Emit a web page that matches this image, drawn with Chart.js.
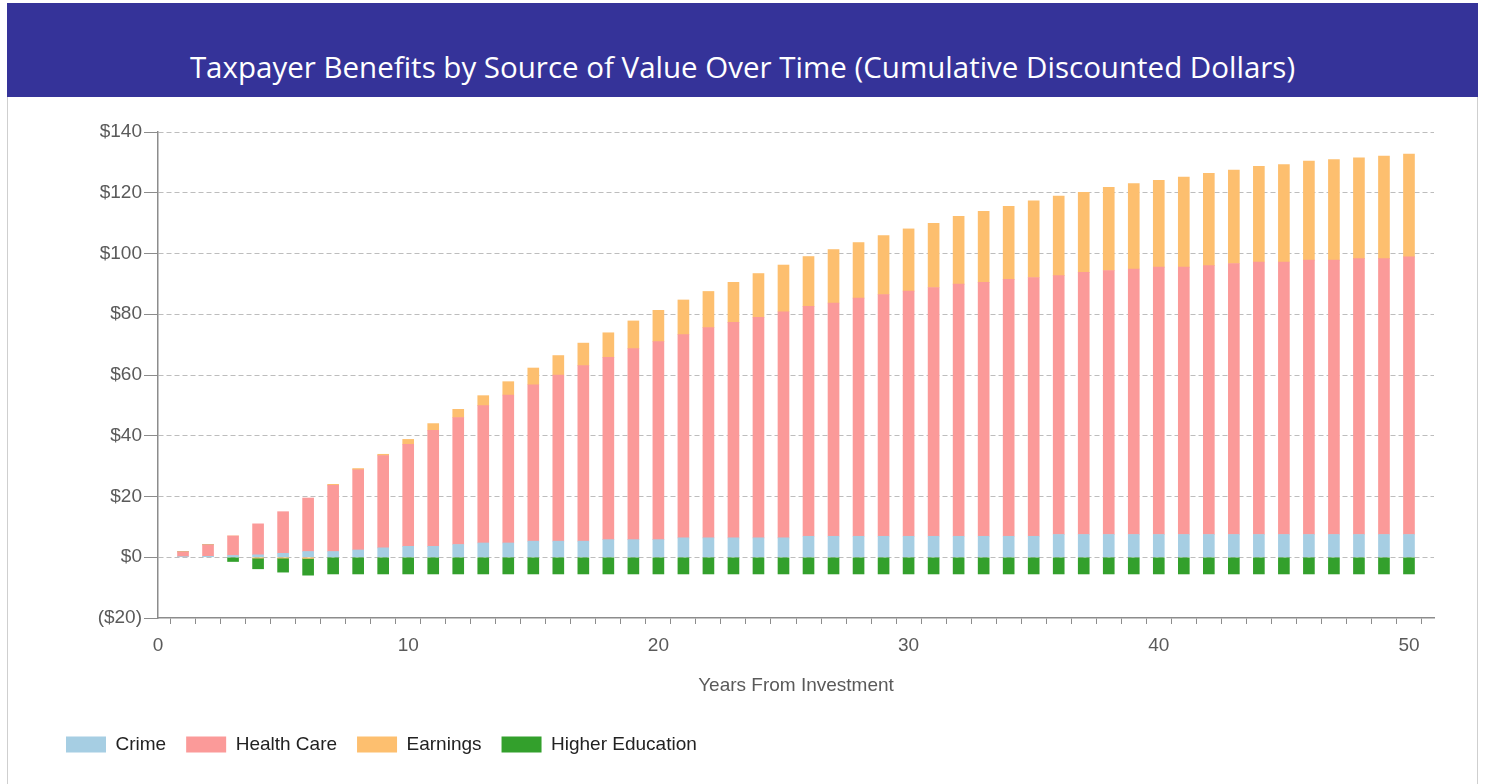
<!DOCTYPE html>
<html>
<head>
<meta charset="utf-8">
<script src="https://cdn.jsdelivr.net/npm/chart.js@4"></script>
<style>
  html, body { margin: 0; padding: 0; background: #fff; }
  body { width: 1489px; height: 784px; position: relative; overflow: hidden; }
  #banner {
    position: absolute; left: 7px; top: 3px; width: 1471px; height: 94px;
    background: #353399; color: #fff;
    font-family: "Open Sans", "Noto Sans", sans-serif; font-size: 29.5px;
    text-align: center; line-height: 94px; padding-top: 17px; box-sizing: border-box;
  }
  #panel {
    position: absolute; left: 7px; top: 97px; width: 1471px; height: 687px;
    border-left: 1px solid #cfcfcf; border-right: 1px solid #cfcfcf; box-sizing: border-box;
  }
  #wrap { position: absolute; left: 8px; top: 97px; width: 1469px; height: 687px; }
</style>
</head>
<body>
<div id="banner">Taxpayer Benefits by Source of Value Over Time (Cumulative Discounted Dollars)</div>
<div id="panel"></div>
<div id="wrap"><canvas id="benefitChart"></canvas></div>
<script>
// years from investment
const years = [];
for (let i = 1; i <= 50; i++) years.push(i);

const crime = [0.2, 0.3, 0.6, 0.8, 1.3, 1.9, 1.9, 2.4, 3.1, 3.6,
  3.6, 4.2, 4.7, 4.7, 5.3, 5.3, 5.3, 5.8, 5.8, 5.8,
  6.4, 6.4, 6.4, 6.4, 6.4, 6.9, 6.9, 6.9, 6.9, 6.9,
  6.9, 6.9, 6.9, 6.9, 6.9, 7.5, 7.5, 7.5, 7.5, 7.5,
  7.5, 7.5, 7.5, 7.5, 7.5, 7.5, 7.5, 7.5, 7.5, 7.5];

const healthCare = [1.6, 3.8, 6.4, 10.2, 13.7, 17.6, 21.8, 26.4, 30.4, 33.6,
  38.2, 41.8, 45.2, 48.7, 51.5, 54.7, 57.8, 60.0, 62.9, 65.2,
  66.9, 69.2, 70.9, 72.6, 74.4, 75.7, 76.8, 78.4, 79.6, 80.7,
  81.9, 83.0, 83.6, 84.6, 85.2, 85.2, 86.3, 86.9, 87.4, 88.0,
  88.0, 88.5, 89.2, 89.7, 89.7, 90.3, 90.3, 90.8, 90.8, 91.4];

const earnings = [0, 0, 0, -0.3, -0.3, -0.4, 0.3, 0.4, 0.4, 1.6,
  2.2, 2.7, 3.3, 4.4, 5.5, 6.4, 7.4, 8.1, 9.1, 10.3,
  11.4, 11.9, 13.2, 14.4, 15.4, 16.4, 17.6, 18.3, 19.4, 20.5,
  21.1, 22.3, 23.4, 24.0, 25.2, 26.2, 26.3, 27.4, 28.1, 28.6,
  29.7, 30.4, 30.8, 31.5, 32.1, 32.6, 33.1, 33.2, 33.8, 33.8];

const higherEducation = [0, 0, -1.4, -3.5, -4.6, -5.5, -5.5, -5.5, -5.5, -5.5,
  -5.5, -5.5, -5.5, -5.5, -5.5, -5.5, -5.5, -5.5, -5.5, -5.5,
  -5.5, -5.5, -5.5, -5.5, -5.5, -5.5, -5.5, -5.5, -5.5, -5.5,
  -5.5, -5.5, -5.5, -5.5, -5.5, -5.5, -5.5, -5.5, -5.5, -5.5,
  -5.5, -5.5, -5.5, -5.5, -5.5, -5.5, -5.5, -5.5, -5.5, -5.5];

const yTicks = [-20, 0, 20, 40, 60, 80, 100, 120, 140];

function points(values) {
    return values.map((v, i) => ({x: years[i], y: v}));
}

function money(v) {
    return v < 0 ? '($' + (-v) + ')' : '$' + v;
}

const fontFamily = '"Liberation Sans", Arial, sans-serif';
const tickGrey = '#5a5a5a';
const axisGrey = '#8c8c8c';

let ctx = document.getElementById('benefitChart').getContext('2d');
new Chart(ctx, {
    type: 'bar',
    data: {
        datasets: [{
            label: 'Crime',
            data: points(crime),
            backgroundColor: '#a6cee3'
        }, {
            label: 'Health Care',
            data: points(healthCare),
            backgroundColor: '#fb9a99'
        }, {
            label: 'Earnings',
            data: points(earnings),
            backgroundColor: '#fdbf6f'
        }, {
            label: 'Higher Education',
            data: points(higherEducation),
            backgroundColor: '#33a02c'
        }]
    },
    options: {
        responsive: true,
        maintainAspectRatio: false,
        animation: false,
        barThickness: 11,
        layout: {
            padding: {left: 38, right: 43, top: 35, bottom: 20}
        },
        plugins: {
            legend: {
                position: 'bottom',
                align: 'start',
                labels: {
                    boxWidth: 40,
                    boxHeight: 16,
                    padding: 20,
                    color: '#222',
                    font: {family: fontFamily, size: 19}
                }
            },
            tooltip: {enabled: false}
        },
        scales: {
            x: {
                type: 'linear',
                stacked: true,
                offset: false,
                min: 0,
                max: 51,
                afterFit: function(scale) { scale.height = 97; },
                afterBuildTicks: function(scale) {
                    scale.ticks = [];
                    for (let v = 0; v <= 51; v++) scale.ticks.push({value: v});
                },
                ticks: {
                    autoSkip: false,
                    maxRotation: 0,
                    padding: 10,
                    color: tickGrey,
                    font: {family: fontFamily, size: 19},
                    callback: function(v) { return v % 10 === 0 ? v : ''; }
                },
                grid: {
                    drawOnChartArea: false,
                    tickLength: 6,
                    tickColor: axisGrey
                },
                border: {color: axisGrey, width: 1.5},
                title: {
                    display: true,
                    text: 'Years From Investment',
                    color: tickGrey,
                    font: {family: fontFamily, size: 19},
                    padding: {top: 4, bottom: 18}
                }
            },
            y: {
                stacked: true,
                min: -20,
                max: 140,
                afterFit: function(scale) { scale.width = 112; },
                afterBuildTicks: function(scale) {
                    scale.ticks = yTicks.map(v => ({value: v}));
                },
                ticks: {
                    padding: 2,
                    color: tickGrey,
                    font: {family: fontFamily, size: 19},
                    callback: money
                },
                grid: {
                    color: function(c) {
                        return c.tick && c.tick.value === -20 ? 'rgba(0,0,0,0)' : '#bdbdbd';
                    },
                    tickBorderDash: [],
                    tickColor: axisGrey,
                    tickLength: 14,
                    lineWidth: 1
                },
                border: {color: axisGrey, width: 1.5, dash: [5, 3]}
            }
        }
    }
});
</script>
</body>
</html>
